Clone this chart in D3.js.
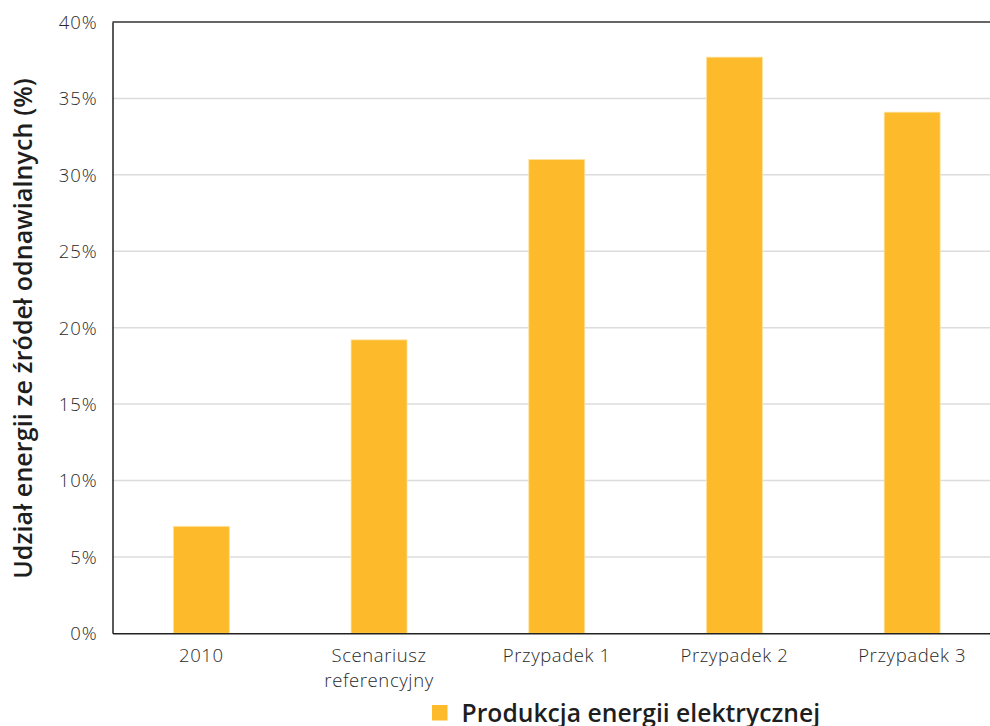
<!DOCTYPE html>
<html>
<head>
<meta charset="utf-8">
<script src="https://cdn.jsdelivr.net/npm/d3@7"></script>
<style>
  html, body { margin: 0; padding: 0; background: #fff; }
  svg { display: block; }
  text { font-family: "Open Sans", "Lato", sans-serif; }
</style>
</head>
<body>
<svg id="chart" width="990" height="726"></svg>
<script>
// Renewable share by scenario
const categories = ["2010", "Scenariusz\nreferencyjny", "Przypadek 1", "Przypadek 2", "Przypadek 3"];
const shareValues = [7.0, 19.2, 31.0, 37.7, 34.1];
const yTicks = [0, 5, 10, 15, 20, 25, 30, 35, 40];
const seriesName = "Produkcja energii elektrycznej";
const axisTitle = "Udział energii ze źródeł odnawialnych (%)";

const svg = d3.select("#chart");
const margin = { left: 112.5, top: 22, bottom: 633.3, right: 1001 };
const barColor = "#FDBB2B";

const x = d3.scaleBand()
  .domain(categories)
  .range([margin.left, margin.right])
  .paddingInner(0.685)
  .paddingOuter(0.3425);

const y = d3.scaleLinear().domain([0, 40]).range([margin.bottom, margin.top]);

// gridlines
svg.append("g")
  .selectAll("line")
  .data(yTicks.filter(t => t > 0 && t < 40))
  .join("line")
  .attr("x1", margin.left).attr("x2", margin.right)
  .attr("y1", d => y(d)).attr("y2", d => y(d))
  .attr("stroke", "#dcdcdc").attr("stroke-width", 1.5);

// top border
svg.append("line")
  .attr("x1", margin.left).attr("x2", margin.right)
  .attr("y1", y(40)).attr("y2", y(40))
  .attr("stroke", "#333").attr("stroke-width", 1.3);

// bars
svg.append("g")
  .selectAll("rect")
  .data(categories.map((c, i) => ({ c, v: shareValues[i] })))
  .join("rect")
  .attr("x", d => x(d.c))
  .attr("width", x.bandwidth())
  .attr("y", d => y(d.v))
  .attr("height", d => y(0) - y(d.v))
  .attr("fill", barColor)
  .attr("stroke", "#fde3a0")
  .attr("stroke-width", 0.8);

// y axis
const yAxis = svg.append("g")
  .attr("transform", `translate(${margin.left},0)`)
  .call(d3.axisLeft(y).tickValues(yTicks).tickFormat(d => d + "%").tickSize(0).tickPadding(15));
yAxis.select(".domain").attr("stroke", "#222").attr("stroke-width", 1.5);
yAxis.selectAll("text")
  .attr("font-size", 18.5).attr("fill", "#2a2a2a")
  .attr("letter-spacing", 0.9)
  .style("font-weight", 300)
  .attr("dy", "0.35em");

// x axis
const xAxis = svg.append("g")
  .attr("transform", `translate(0,${margin.bottom})`)
  .call(d3.axisBottom(x).tickSize(0).tickFormat(""));
xAxis.select(".domain").attr("stroke", "#222").attr("stroke-width", 1.5);
xAxis.selectAll(".tick").each(function (d) {
  const t = d3.select(this).append("text")
    .attr("text-anchor", "middle")
    .attr("font-size", 18.5)
    .attr("letter-spacing", 0.6)
    .attr("fill", "#2a2a2a")
    .style("font-weight", 300);
  d.split("\n").forEach((line, i) => {
    t.append("tspan").attr("x", 0).attr("y", 29 + i * 25).text(line);
  });
});

// y axis title
svg.append("text")
  .attr("transform", `translate(32,${328.5}) rotate(-90)`)
  .attr("text-anchor", "middle")
  .attr("font-size", 25)
  .attr("letter-spacing", 0.1)
  .attr("fill", "#1e1e1e")
  .style("font-weight", 600)
  .text(axisTitle);

// legend
const legend = svg.append("g").attr("transform", "translate(432,705)");
legend.append("rect").attr("width", 15.5).attr("height", 15.5).attr("fill", barColor);
legend.append("text")
  .attr("x", 29.5).attr("y", 16.7)
  .attr("font-size", 24.7)
  .attr("letter-spacing", 0)
  .attr("fill", "#1e1e1e")
  .style("font-weight", 600)
  .text(seriesName);
</script>
</body>
</html>
